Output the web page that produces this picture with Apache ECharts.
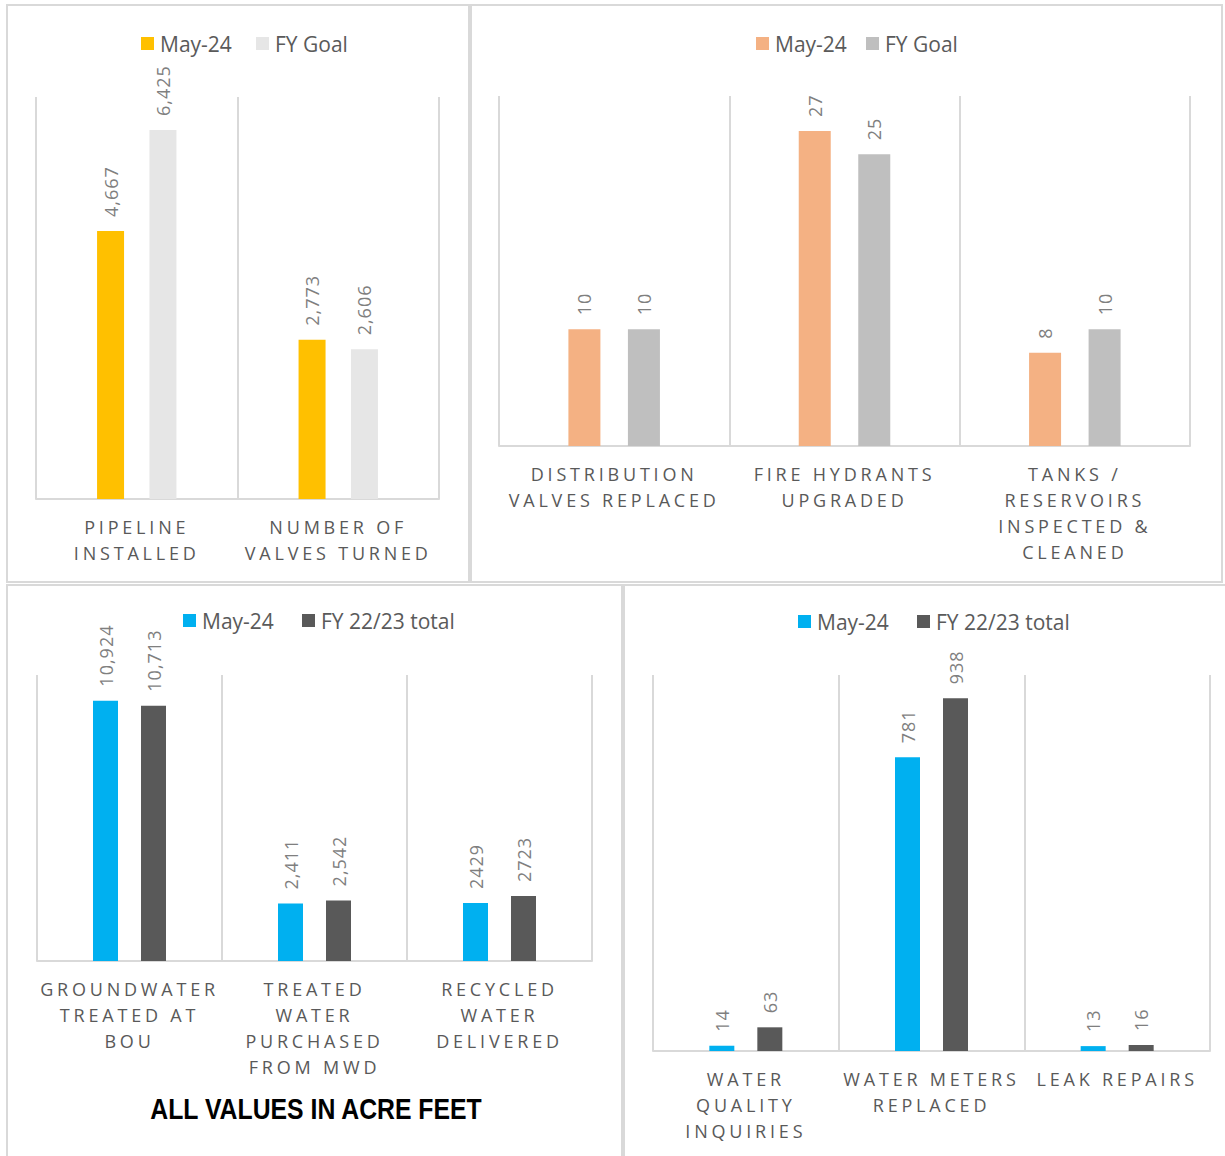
<!DOCTYPE html>
<html><head><meta charset="utf-8">
<script src="https://cdn.jsdelivr.net/npm/echarts@6/dist/echarts.min.js"></script>
<style>
html,body{margin:0;padding:0;background:#fff;}
#c{width:1225px;height:1156px;}
#c text[fill="#595959"]{letter-spacing:3.8px;}
#c text[fill="#7f7f7f"]{letter-spacing:1px;}
</style></head><body><div id="c"></div>
<script>
// ---- data ----
const p1Categories = ['PIPELINE\nINSTALLED', 'NUMBER OF\nVALVES TURNED'];
const p1May = [4667, 2773];
const p1Goal = [6425, 2606];

const p2Categories = ['DISTRIBUTION\nVALVES REPLACED', 'FIRE HYDRANTS\nUPGRADED', 'TANKS /\nRESERVOIRS\nINSPECTED &\nCLEANED'];
const p2May = [10, 27, 8];
const p2Goal = [10, 25, 10];

const p3Categories = ['GROUNDWATER\nTREATED AT\nBOU', 'TREATED\nWATER\nPURCHASED\nFROM MWD', 'RECYCLED\nWATER\nDELIVERED'];
const p3May = [10924, 2411, 2429];
const p3FY = [10713, 2542, 2723];
const p3LabelGrouped = [true, true, false]; // thousands separator shown in label

const p4Categories = ['WATER\nQUALITY\nINQUIRIES', 'WATER METERS\nREPLACED', 'LEAK REPAIRS'];
const p4May = [14, 781, 13];
const p4FY = [63, 938, 16];

const axisMax = [7000, 30, 12000, 1000];
const seriesNames = ['May-24', 'FY Goal', 'FY 22/23 total'];
const titleText = 'ALL VALUES IN ACRE FEET';

// ---- style ----
const C_YELLOW = '#FFC000', C_LGRAY = '#E6E6E6', C_ORANGE = '#F4B183', C_MGRAY = '#BFBFBF', C_BLUE = '#00B0F0', C_DGRAY = '#595959';
const BORDER = '#D9D9D9';
const FONT = 'Open Sans';

const grids = [
  {left: 36, top: 97, width: 403, height: 402},
  {left: 499, top: 96, width: 691, height: 350},
  {left: 37, top: 675, width: 555, height: 286},
  {left: 653, top: 675, width: 557, height: 376}
];
const cats = [p1Categories, p2Categories, p3Categories, p4Categories];

const xAxes = cats.map((c, i) => ({
  type: 'category', gridIndex: i, data: c,
  axisLine: {lineStyle: {color: BORDER, width: 2}},
  axisTick: {show: false},
  splitLine: {show: true, interval: 0, lineStyle: {color: BORDER, width: 2}},
  axisLabel: {interval: 0, fontSize: 18, lineHeight: 26, color: '#595959', fontFamily: FONT, margin: 15}
}));
const yAxes = axisMax.map((m, i) => ({type: 'value', gridIndex: i, min: 0, max: m, show: false}));

function fmtComma(v) { return Number(v).toLocaleString('en-US'); }

function bar(name, data, idx, color, width, gap, fmt) {
  return {
    type: 'bar', name, data, xAxisIndex: idx, yAxisIndex: idx,
    barWidth: width, barGap: gap,
    itemStyle: {color},
    label: {
      show: true, position: 'top', rotate: 90, align: 'left', verticalAlign: 'middle',
      distance: 14, fontSize: 18, color: '#7f7f7f', fontFamily: FONT,
      formatter: p => fmt(p.value, p.dataIndex)
    }
  };
}

const series = [
  bar(seriesNames[0], p1May, 0, C_YELLOW, 27, '94%', v => fmtComma(v)),
  bar(seriesNames[1], p1Goal, 0, C_LGRAY, 27, '94%', v => fmtComma(v)),
  bar(seriesNames[0], p2May, 1, C_ORANGE, 32, '86%', v => String(v)),
  bar(seriesNames[1], p2Goal, 1, C_MGRAY, 32, '86%', v => String(v)),
  bar(seriesNames[0], p3May, 2, C_BLUE, 25, '92%', (v, i) => p3LabelGrouped[i] ? fmtComma(v) : String(v)),
  bar(seriesNames[2], p3FY, 2, C_DGRAY, 25, '92%', (v, i) => p3LabelGrouped[i] ? fmtComma(v) : String(v)),
  bar(seriesNames[0], p4May, 3, C_BLUE, 25, '92%', v => String(v)),
  bar(seriesNames[2], p4FY, 3, C_DGRAY, 25, '92%', v => String(v))
];

const legendItems = [
  [seriesNames[0], C_YELLOW, 141, 33], [seriesNames[1], C_LGRAY, 256, 33],
  [seriesNames[0], C_ORANGE, 756, 33], [seriesNames[1], C_MGRAY, 866, 33],
  [seriesNames[0], C_BLUE, 183, 610], [seriesNames[2], C_DGRAY, 302, 610],
  [seriesNames[0], C_BLUE, 798, 611], [seriesNames[2], C_DGRAY, 917, 611]
];
const legends = legendItems.map(([n, col, l, t]) => ({
  left: l, top: t, padding: 0, itemWidth: 13, itemHeight: 13, icon: 'rect',
  selectedMode: false,
  data: [{name: n, itemStyle: {color: col}}],
  textStyle: {fontSize: 21, color: '#5a5a5a', fontFamily: FONT, padding: [0, 0, 0, 1]}
}));

const panels = [[7, 5, 469, 582], [471, 5, 1222, 582], [7, 585, 622, 1165], [624, 585, 1232, 1165]];
const graphic = panels.map(([x1, y1, x2, y2]) => ({
  type: 'rect', shape: {x: x1, y: y1, width: x2 - x1, height: y2 - y1},
  style: {fill: 'none', stroke: BORDER, lineWidth: 2}, silent: true, z: -1
}));
graphic.push({
  type: 'text', x: 316, y: 1109, scaleX: 0.855,
  style: {text: titleText, fontFamily: 'Liberation Sans', fontWeight: 'bold', fontSize: 29, fill: '#000', align: 'center', verticalAlign: 'middle'}
});

const chart = echarts.init(document.getElementById('c'), null, {renderer: 'svg'});
chart.setOption({
  animation: false,
  backgroundColor: '#fff',
  grid: grids,
  xAxis: xAxes,
  yAxis: yAxes,
  legend: legends,
  series,
  graphic
});
</script></body></html>
